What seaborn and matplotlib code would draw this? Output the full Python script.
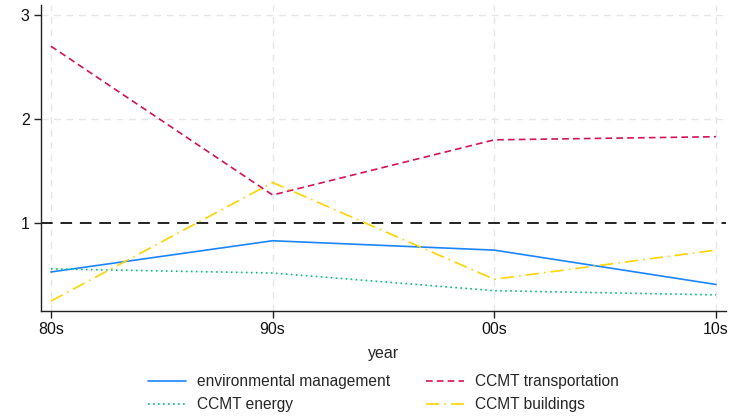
import numpy as np
import pandas as pd
import seaborn as sns
from matplotlib import pyplot as plt

decades = ["80s", "90s", "00s", "10s"]
env_mgmt = [0.53, 0.83, 0.74, 0.41]
ccmt_transport = [2.70, 1.27, 1.80, 1.83]
ccmt_energy = [0.56, 0.52, 0.35, 0.31]
ccmt_buildings = [0.25, 1.39, 0.46, 0.74]

sns.set_theme(style="white")
plt.rcParams["font.family"] = ["Liberation Sans", "DejaVu Sans"]

df = pd.DataFrame({
    "year": np.arange(len(decades)),
    "environmental management": env_mgmt,
    "CCMT transportation": ccmt_transport,
    "CCMT energy": ccmt_energy,
    "CCMT buildings": ccmt_buildings,
})

series = [
    ("environmental management", "#1a85ff", "-"),
    ("CCMT transportation", "#d41159", (0, (4, 2.5))),
    ("CCMT energy", "#00bf7f", (0, (1, 2))),
    ("CCMT buildings", "#ffd400", (0, (8, 3, 1, 3))),
]

fig = plt.figure(figsize=(7.31, 4.17), dpi=100)
ax = fig.add_axes([0.056, 0.254, 0.937, 0.734])

# light dashed grid + reference line at 1
for x in range(len(decades)):
    ax.axvline(x, color="#e6e6e6", lw=1, ls=(0, (5, 4)), zorder=0)
for y in [2, 3]:
    ax.axhline(y, color="#e6e6e6", lw=1, ls=(0, (5, 4)), zorder=0)
ax.axhline(1, color="#222222", lw=1.4, ls=(0, (6, 4)), zorder=1)

lines = {}
for name, col, ls in series:
    sns.lineplot(data=df, x="year", y=name, color=col, ax=ax, lw=1.2, label=name, legend=False)
    ln = ax.get_lines()[-1]
    ln.set_linestyle(ls)
    lines[name] = ln

ax.set_xlim(-0.045, 3.045)
ax.set_ylim(0.154, 3.096)
ax.set_xticks(range(len(decades)))
ax.set_xticklabels(decades)
ax.set_yticks([1, 2, 3])
ax.set_xlabel("year", fontsize=11.5, labelpad=6)
ax.set_ylabel("")
ax.tick_params(axis="both", direction="out", length=5, width=1, color="#222222",
               labelsize=11.5, labelcolor="#111111", pad=3)
ax.tick_params(axis="x", bottom=True)
ax.tick_params(axis="y", left=True)
for s in ["top", "right"]:
    ax.spines[s].set_visible(False)
for s in ["left", "bottom"]:
    ax.spines[s].set_color("#222222")
    ax.spines[s].set_linewidth(1)

order = ["environmental management", "CCMT energy", "CCMT transportation", "CCMT buildings"]
fig.legend([lines[n] for n in order], order, ncol=2, loc="center",
           bbox_to_anchor=(0.525, 0.057), frameon=False, fontsize=11.2,
           handlelength=2.4, columnspacing=2.3, labelspacing=0.5, handletextpad=0.75)

fig.savefig("out.png", dpi=100)
